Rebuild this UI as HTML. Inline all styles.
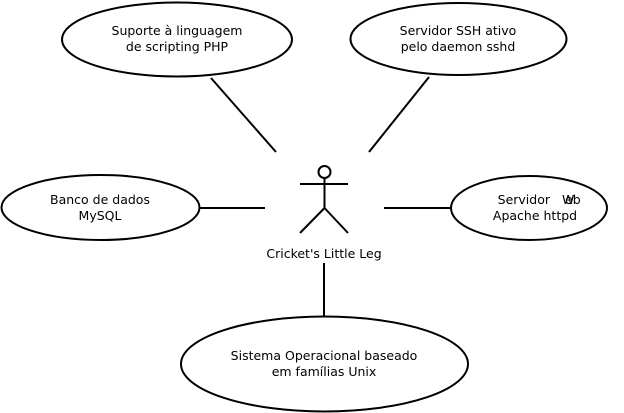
<!DOCTYPE html>
<html><head><meta charset="utf-8"><style>
html,body{margin:0;padding:0;background:#fff;}
svg{display:block;}
</style></head><body>
<svg width="624" height="413" viewBox="0 0 624 413" font-family="DejaVu Sans, Liberation Sans, sans-serif" font-size="12.5" text-anchor="middle">
<g fill="none" stroke="#000" stroke-width="2">
<ellipse cx="177" cy="39.5" rx="115" ry="37"/>
<ellipse cx="458.5" cy="39" rx="108" ry="36"/>
<ellipse cx="100.5" cy="207.5" rx="99" ry="32.5"/>
<ellipse cx="529" cy="208" rx="78" ry="32"/>
<ellipse cx="324.5" cy="364" rx="143.5" ry="47.5"/>
<line x1="211" y1="78" x2="276" y2="152"/>
<line x1="429" y1="77" x2="369" y2="152"/>
<line x1="200" y1="208" x2="265" y2="208"/>
<line x1="384" y1="208" x2="451" y2="208"/>
<line x1="324" y1="263" x2="324" y2="316"/>
<circle cx="324.5" cy="172" r="6"/>
<line x1="300" y1="184" x2="348" y2="184"/>
<line x1="324.5" y1="178" x2="324.5" y2="208"/>
<line x1="324.5" y1="208" x2="300" y2="233"/>
<line x1="324.5" y1="208" x2="348" y2="233"/>
</g>
<g fill="#000">
<text x="177" y="35">Suporte à linguagem</text>
<text x="177" y="51">de scripting PHP</text>
<text x="458" y="35">Servidor SSH ativo</text>
<text x="458" y="51">pelo daemon sshd</text>
<text x="100" y="204">Banco de dados</text>
<text x="100" y="220">MySQL</text>
<text x="550" y="204" text-anchor="end">Servidor</text>
<text x="562" y="204" text-anchor="start">W</text>
<text x="565" y="204" text-anchor="start">eb</text>
<text x="535" y="220">Apache httpd</text>
<text x="324" y="258">Cricket's Little Leg</text>
<text x="324" y="360">Sistema Operacional baseado</text>
<text x="324" y="376">em famílias Unix</text>
</g>
</svg>
</body></html>
